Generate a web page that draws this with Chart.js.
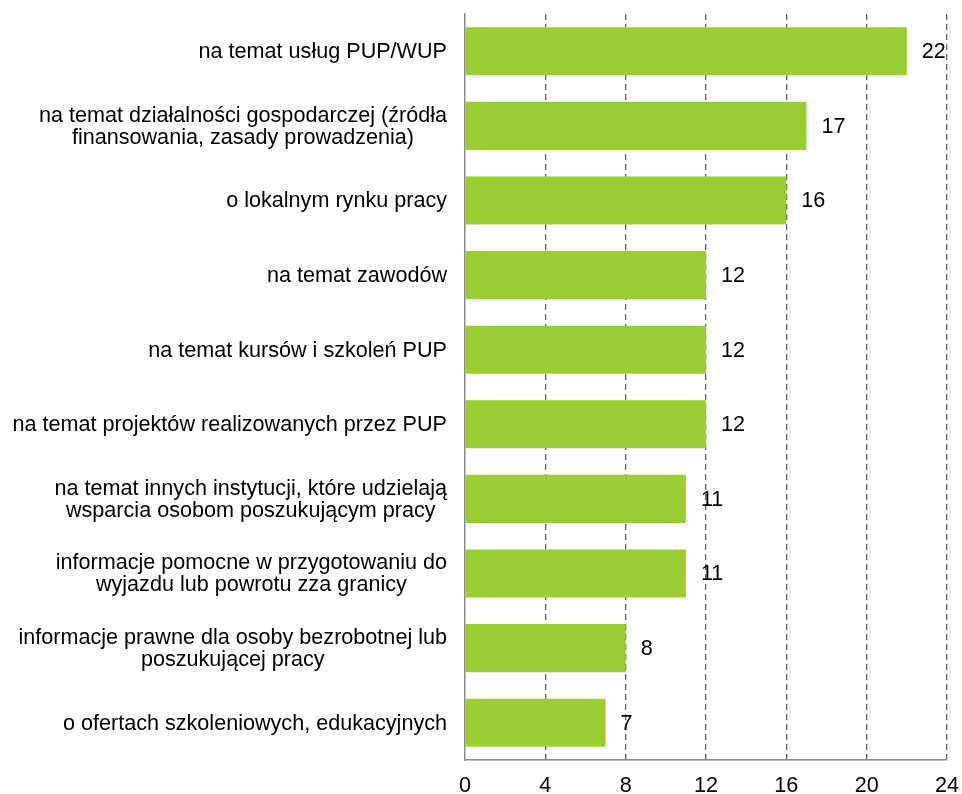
<!DOCTYPE html>
<html>
<head>
<meta charset="utf-8">
<script src="https://cdn.jsdelivr.net/npm/chart.js@4.4.0/dist/chart.umd.min.js"></script>
<style>
  html, body { margin: 0; padding: 0; background: #fff; }
  #wrap { width: 962px; height: 794px; }
</style>
</head>
<body>
<div id="wrap"><canvas id="chart" width="962" height="794"></canvas></div>
<script>
const categories = [
  ["na temat usług PUP/WUP"],
  ["na temat działalności gospodarczej (źródła", "finansowania, zasady prowadzenia)"],
  ["o lokalnym rynku pracy"],
  ["na temat zawodów"],
  ["na temat kursów i szkoleń PUP"],
  ["na temat projektów realizowanych przez PUP"],
  ["na temat innych instytucji, które udzielają", "wsparcia osobom poszukującym pracy"],
  ["informacje pomocne w przygotowaniu do", "wyjazdu lub powrotu zza granicy"],
  ["informacje prawne dla osoby bezrobotnej lub", "poszukującej pracy"],
  ["o ofertach szkoleniowych, edukacyjnych"]
];
const values = [22, 17, 16, 12, 12, 12, 11, 11, 8, 7];
const xTicks = [0, 4, 8, 12, 16, 20, 24];

const FONT = "Liberation Sans, Arial, sans-serif";
const FONT_SIZE = 21.6;

// etykiety kategorii: blok wyrównany do prawej, linie wyśrodkowane
const catLabels = {
  id: "catLabels",
  afterDraw(chart) {
    const ctx = chart.ctx;
    const y = chart.scales.y;
    const right = chart.chartArea.left - 18;
    ctx.save();
    ctx.font = FONT_SIZE + "px " + FONT;
    ctx.fillStyle = "#000";
    ctx.textAlign = "center";
    ctx.textBaseline = "middle";
    categories.forEach((lines, i) => {
      const w = Math.max(...lines.map(l => ctx.measureText(l).width));
      const cx = right - w / 2;
      const cy = y.getPixelForValue(i) + 1;
      const lh = 22;
      lines.forEach((l, k) => {
        ctx.fillText(l, cx, cy + (k - (lines.length - 1) / 2) * lh);
      });
    });
    // etykiety osi X
    const x = chart.scales.x;
    xTicks.forEach(v => {
      ctx.fillText(String(v), x.getPixelForValue(v), chart.chartArea.bottom + 26);
    });
    ctx.restore();
  }
};

// wartości przy słupkach
const valueLabels = {
  id: "valueLabels",
  afterDatasetsDraw(chart) {
    const ctx = chart.ctx;
    const meta = chart.getDatasetMeta(0);
    ctx.save();
    ctx.font = FONT_SIZE + "px " + FONT;
    ctx.fillStyle = "#000";
    ctx.textAlign = "left";
    ctx.textBaseline = "middle";
    meta.data.forEach((bar, i) => {
      ctx.fillText(String(values[i]), bar.x + 15, bar.y + 1);
    });
    ctx.restore();
  }
};

new Chart(document.getElementById("chart"), {
  type: "bar",
  data: {
    labels: categories.map(c => c.join(" ")),
    datasets: [{
      data: values,
      backgroundColor: "#9acd32",
      borderWidth: 0,
      barPercentage: 0.645,
      categoryPercentage: 1
    }]
  },
  options: {
    indexAxis: "y",
    responsive: false,
    animation: false,
    layout: { padding: { top: 14, right: 15, left: 0, bottom: 34 } },
    plugins: { legend: { display: false }, tooltip: { enabled: false } },
    scales: {
      x: {
        min: 0,
        max: 24,
        afterBuildTicks(scale) { scale.ticks = xTicks.map(v => ({ value: v })); },
        ticks: { display: false },
        grid: {
          drawTicks: false,
          color: ctx => ctx.tick && ctx.tick.value === 0 ? "rgba(0,0,0,0)" : "#606060",
          lineWidth: 1.3
        },
        border: { color: "#888", width: 1.5, dash: [6, 4] }
      },
      y: {
        ticks: { display: false },
        grid: { display: false, drawTicks: false },
        border: { color: "#888", width: 1.5 },
        afterFit(scale) { scale.width = 465; }
      }
    }
  },
  plugins: [catLabels, valueLabels]
});
</script>
</body>
</html>
